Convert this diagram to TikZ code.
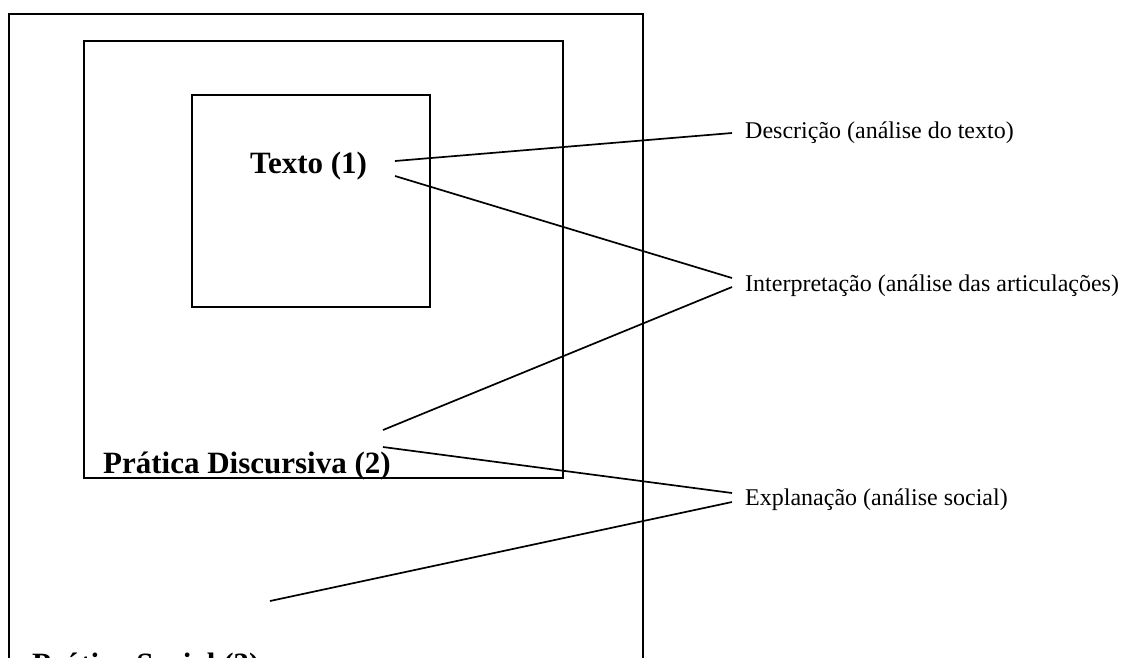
\documentclass[tikz,border=0pt]{standalone}
\usepackage{fontspec}
\setmainfont{Liberation Serif}
\begin{document}
\begin{tikzpicture}[x=1pt,y=-1pt,
  frame/.style={draw,line width=2pt},
  link/.style={line width=1.7pt},
  level/.style={font=\fontsize{31}{36}\selectfont\bfseries,inner sep=0pt,anchor=base west},
  stage/.style={font=\fontsize{24}{28}\selectfont,inner sep=0pt,anchor=base west}]
\useasboundingbox (0,0) rectangle (1126,657);
\clip (0,0) rectangle (1126,657);
% nested levels of analysis
\draw[frame] (9,14) rectangle (643,720);
\draw[frame] (84,41) rectangle (563,478);
\draw[frame] (192,95) rectangle (430,307);
\node[level] (texto) at (250,173) {Texto (1)};
\node[level] (pd) at (103,473) {Prática Discursiva (2)};
\node[level] (ps) at (32,674) {Prática Social (3)};
% dimensions of the analysis
\node[stage] (desc) at (745,138) {Descrição (análise do texto)};
\node[stage] (interp) at (745,291) {Interpretação (análise das articulações)};
\node[stage] (expl) at (745,505) {Explanação (análise social)};
% connector ends
\coordinate (t1) at (395,161);
\coordinate (t2) at (395,176);
\coordinate (p1) at (383,430);
\coordinate (p2) at (383,447);
\coordinate (s1) at (270,601);
\coordinate (d0) at (732,133);
\coordinate (i1) at (732,278);
\coordinate (i2) at (732,287);
\coordinate (e1) at (732,493);
\coordinate (e2) at (732,502);
\draw[link] (t1) -- (d0);
\draw[link] (t2) -- (i1);
\draw[link] (p1) -- (i2);
\draw[link] (p2) -- (e1);
\draw[link] (s1) -- (e2);
\end{tikzpicture}
\end{document}
